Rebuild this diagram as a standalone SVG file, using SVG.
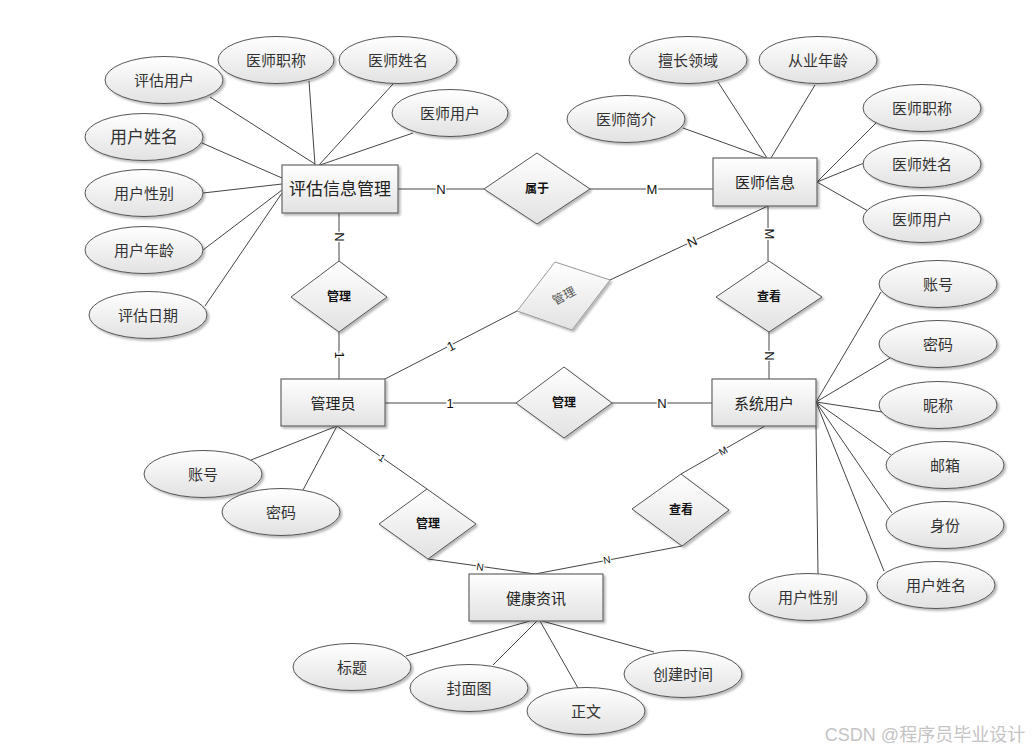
<svg xmlns="http://www.w3.org/2000/svg" width="1034" height="753" viewBox="0 0 1034 753">
<defs>
<linearGradient id="gf" x1="0" y1="0" x2="0" y2="1"><stop offset="0" stop-color="#ffffff"/><stop offset="1" stop-color="#e2e2e2"/></linearGradient>
<filter id="sh" x="-20%" y="-20%" width="150%" height="160%"><feDropShadow dx="2" dy="2" stdDeviation="1" flood-color="#000" flood-opacity="0.28"/></filter>
</defs>
<style>
text{font-family:"Liberation Sans","Noto Sans CJK SC",sans-serif;text-anchor:middle;dominant-baseline:central}
.a ellipse{fill:url(#gf);stroke:#555;stroke-width:1;filter:url(#sh)}
.a text{font-size:15px;fill:#333}
.e rect{fill:url(#gf);stroke:#666;stroke-width:1.2;filter:url(#sh)}
.e text{font-size:15px;fill:#222}
.r polygon{fill:url(#gf);stroke:#555;stroke-width:1;filter:url(#sh)}
.r text{font-size:12px;fill:#111;font-weight:bold}
#conn line{stroke:#444;stroke-width:1}
.c{font-size:13px;fill:#111;stroke:#fff;stroke-width:3;paint-order:stroke}
.cs{font-size:10px;fill:#111;stroke:#fff;stroke-width:2.5;paint-order:stroke}
</style>
<rect width="1034" height="753" fill="#fff"/>
<g id="conn">
<line x1="210" y1="97" x2="315" y2="164"/>
<line x1="309" y1="81" x2="315" y2="165"/>
<line x1="393" y1="84" x2="319" y2="165"/>
<line x1="413" y1="133" x2="320" y2="165"/>
<line x1="202" y1="143" x2="282" y2="178"/>
<line x1="203" y1="193" x2="282" y2="184"/>
<line x1="203" y1="250" x2="282" y2="190"/>
<line x1="205" y1="306" x2="282" y2="193"/>
<line x1="398" y1="189" x2="484" y2="189"/>
<line x1="590" y1="189" x2="713" y2="189"/>
<line x1="339" y1="213" x2="339" y2="261"/>
<line x1="339" y1="332" x2="339" y2="379"/>
<line x1="718" y1="82" x2="767" y2="158"/>
<line x1="815" y1="85" x2="771" y2="158"/>
<line x1="683" y1="128" x2="766" y2="158"/>
<line x1="876" y1="123" x2="817" y2="182"/>
<line x1="864" y1="163" x2="817" y2="182"/>
<line x1="868" y1="211" x2="817" y2="182"/>
<line x1="768" y1="206" x2="768" y2="261"/>
<line x1="769" y1="332" x2="769" y2="379"/>
<line x1="768" y1="206" x2="610" y2="280"/>
<line x1="385" y1="379" x2="517" y2="311"/>
<line x1="385" y1="403" x2="516" y2="403"/>
<line x1="612" y1="403" x2="712" y2="403"/>
<line x1="881" y1="292" x2="816" y2="402"/>
<line x1="890" y1="358" x2="816" y2="402"/>
<line x1="882" y1="412" x2="816" y2="402"/>
<line x1="891" y1="455" x2="816" y2="402"/>
<line x1="892" y1="513" x2="816" y2="402"/>
<line x1="884" y1="571" x2="816" y2="402"/>
<line x1="816" y1="426" x2="818" y2="574"/>
<line x1="251" y1="460" x2="337" y2="426"/>
<line x1="303" y1="490" x2="337" y2="426"/>
<line x1="337" y1="426" x2="427" y2="489"/>
<line x1="428" y1="559" x2="535" y2="574"/>
<line x1="682" y1="546" x2="535" y2="574"/>
<line x1="681" y1="474" x2="765" y2="426"/>
<line x1="406" y1="656" x2="530" y2="621"/>
<line x1="493" y1="665" x2="537" y2="621"/>
<line x1="578" y1="688" x2="540" y2="621"/>
<line x1="654" y1="652" x2="542" y2="621"/>
<text class="c" x="441" y="189">N</text>
<text class="c" x="652" y="189">M</text>
<text class="c" transform="translate(339,237) rotate(90)">N</text>
<text class="c" transform="translate(339,355) rotate(90)">1</text>
<text class="c" transform="translate(769,234) rotate(90)">M</text>
<text class="c" transform="translate(769,356) rotate(90)">N</text>
<text class="c" transform="translate(692,242) rotate(-25)">N</text>
<text class="c" transform="translate(451,346) rotate(-27)">1</text>
<text class="c" x="450" y="403">1</text>
<text class="c" x="662" y="403">N</text>
<text class="cs" transform="translate(382,458) rotate(35)">1</text>
<text class="cs" transform="translate(480,567) rotate(8)">N</text>
<text class="cs" transform="translate(607,560) rotate(-11)">N</text>
<text class="cs" transform="translate(723,451) rotate(-30)">M</text>
</g>
<g id="n-pgxx" class="e"><rect x="282" y="165" width="116" height="48"/><text x="340" y="189" style="font-size:17px">评估信息管理</text></g>
<g id="n-ysxx" class="e"><rect x="713" y="158" width="104" height="48"/><text x="765" y="182">医师信息</text></g>
<g id="n-gly" class="e"><rect x="281" y="379" width="104" height="47"/><text x="333" y="403">管理员</text></g>
<g id="n-xtyh" class="e"><rect x="712" y="379" width="104" height="47"/><text x="764" y="403">系统用户</text></g>
<g id="n-jkzx" class="e"><rect x="469" y="574" width="134" height="47"/><text x="536" y="598">健康资讯</text></g>
<g id="d-sy" class="r"><polygon points="484,189 537,153 590,189 537,224"/><text x="537" y="189">属于</text></g>
<g id="d-gl1" class="r"><polygon points="291,297 339,261 387,297 339,332"/><text x="339" y="297">管理</text></g>
<g id="d-ck1" class="r"><polygon points="716,297 769,261 822,297 769,332"/><text x="769" y="297">查看</text></g>
<g id="d-gl2" class="r"><polygon points="555,262 610,280 572,330 517,311" style="stroke:#999"/><text transform="translate(564,296) rotate(-28)" style="fill:#555;font-weight:normal">管理</text></g>
<g id="d-gl3" class="r"><polygon points="516,403 564,367 612,403 564,438"/><text x="564" y="403">管理</text></g>
<g id="d-gl4" class="r"><polygon points="379,524 427,489 476,524 428,559"/><text x="428" y="524">管理</text></g>
<g id="d-ck2" class="r"><polygon points="632,509 681,474 729,510 682,546"/><text x="681" y="510">查看</text></g>
<g id="a1" class="a"><ellipse cx="164" cy="80" rx="59" ry="23.5"/><text x="164" y="80">评估用户</text></g>
<g id="a2" class="a"><ellipse cx="276" cy="60" rx="58" ry="23.5"/><text x="276" y="60">医师职称</text></g>
<g id="a3" class="a"><ellipse cx="398" cy="60" rx="59" ry="23.5"/><text x="398" y="60">医师姓名</text></g>
<g id="a4" class="a"><ellipse cx="450" cy="113" rx="58" ry="23.5"/><text x="450" y="113">医师用户</text></g>
<g id="a5" class="a"><ellipse cx="144" cy="137" rx="59" ry="23.5"/><text x="144" y="137" style="font-size:17px">用户姓名</text></g>
<g id="a6" class="a"><ellipse cx="144" cy="193" rx="59" ry="23.5"/><text x="144" y="193">用户性别</text></g>
<g id="a7" class="a"><ellipse cx="144" cy="250" rx="59" ry="23.5"/><text x="144" y="250">用户年龄</text></g>
<g id="a8" class="a"><ellipse cx="148" cy="315" rx="59" ry="23.5"/><text x="148" y="315">评估日期</text></g>
<g id="a9" class="a"><ellipse cx="688" cy="60" rx="59" ry="23.5"/><text x="688" y="60">擅长领域</text></g>
<g id="a10" class="a"><ellipse cx="818" cy="60" rx="59" ry="23.5"/><text x="818" y="60">从业年龄</text></g>
<g id="a11" class="a"><ellipse cx="626" cy="119" rx="59" ry="23.5"/><text x="626" y="119">医师简介</text></g>
<g id="a12" class="a"><ellipse cx="922" cy="108" rx="59" ry="23.5"/><text x="922" y="108">医师职称</text></g>
<g id="a13" class="a"><ellipse cx="922" cy="164" rx="59" ry="23.5"/><text x="922" y="164">医师姓名</text></g>
<g id="a14" class="a"><ellipse cx="922" cy="219" rx="59" ry="23.5"/><text x="922" y="219">医师用户</text></g>
<g id="a15" class="a"><ellipse cx="938" cy="284" rx="59" ry="23.5"/><text x="938" y="284">账号</text></g>
<g id="a16" class="a"><ellipse cx="938" cy="344" rx="59" ry="23.5"/><text x="938" y="344">密码</text></g>
<g id="a17" class="a"><ellipse cx="938" cy="405" rx="59" ry="23.5"/><text x="938" y="405">昵称</text></g>
<g id="a18" class="a"><ellipse cx="945" cy="465" rx="59" ry="23.5"/><text x="945" y="465">邮箱</text></g>
<g id="a19" class="a"><ellipse cx="945" cy="525" rx="59" ry="23.5"/><text x="945" y="525">身份</text></g>
<g id="a20" class="a"><ellipse cx="936" cy="585" rx="59" ry="23.5"/><text x="936" y="585">用户姓名</text></g>
<g id="a21" class="a"><ellipse cx="808" cy="597" rx="59" ry="23.5"/><text x="808" y="597">用户性别</text></g>
<g id="a22" class="a"><ellipse cx="203" cy="474" rx="59" ry="23.5"/><text x="203" y="474">账号</text></g>
<g id="a23" class="a"><ellipse cx="281" cy="512" rx="59" ry="23.5"/><text x="281" y="512">密码</text></g>
<g id="a24" class="a"><ellipse cx="352" cy="667" rx="59" ry="23.5"/><text x="352" y="667">标题</text></g>
<g id="a25" class="a"><ellipse cx="469" cy="688" rx="59" ry="23.5"/><text x="469" y="688">封面图</text></g>
<g id="a26" class="a"><ellipse cx="586" cy="711" rx="59" ry="23.5"/><text x="586" y="711">正文</text></g>
<g id="a27" class="a"><ellipse cx="683" cy="674" rx="59" ry="23.5"/><text x="683" y="674">创建时间</text></g>
<text x="925" y="735" style="font-size:18px;fill:#c4c4c4">CSDN @程序员毕业设计</text>
</svg>
